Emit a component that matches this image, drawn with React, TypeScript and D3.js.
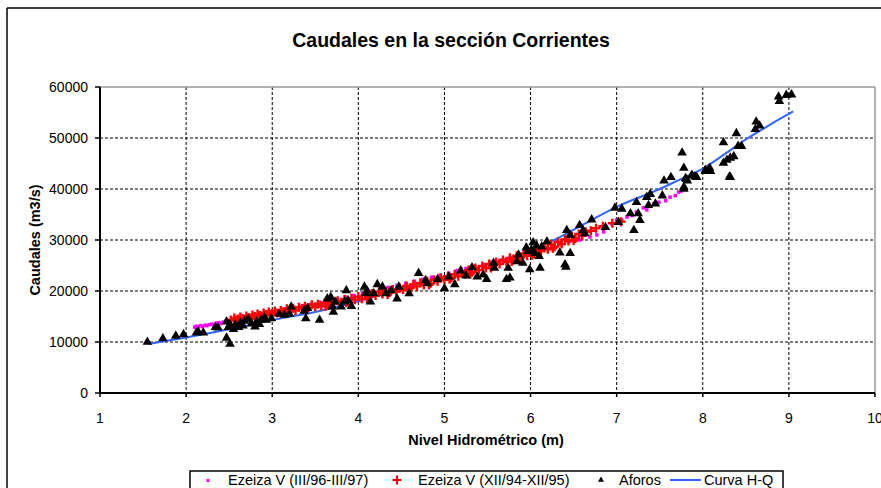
import React from "react";
import * as d3 from "d3";

const W = 881;
const H = 488;

const xTicks = [1, 2, 3, 4, 5, 6, 7, 8, 9, 10];
const yTicks = [0, 10000, 20000, 30000, 40000, 50000, 60000];

const title = "Caudales en la sección Corrientes";
const xTitle = "Nivel Hidrométrico (m)";
const yTitle = "Caudales (m3/s)";

const legendLabels = [
  "Ezeiza V (III/96-III/97)",
  "Ezeiza V (XII/94-XII/95)",
  "Aforos",
  "Curva H-Q",
];

// Curva H-Q
const curveHQ: [number, number][] = [
  [1.56, 9600], [2.0, 10900], [2.5, 12500], [3.0, 14300], [3.5, 15900],
  [4.0, 18000], [4.5, 20400], [5.0, 22800], [5.5, 25200], [6.0, 28000],
  [6.25, 29800], [6.5, 32000], [6.75, 34300], [7.0, 36500], [7.5, 40000],
  [7.75, 42000], [8.0, 44000], [8.25, 46800], [8.5, 49700], [8.75, 52300], [9.05, 55200],
];

// Ezeiza V (III/96-III/97)
const ezeiza96: [number, number][] = [
  [2.10, 12900], [2.12, 13100], [2.14, 13000], [2.17, 13200], [2.19, 13000], [2.22, 13300],
  [2.24, 13200], [2.27, 13400], [2.30, 13500], [2.32, 13400], [2.35, 13700], [2.38, 13800],
  [2.40, 13600], [2.43, 13900], [2.46, 14100], [2.48, 13900], [2.50, 14200], [2.56, 14400],
  [2.62, 14600], [2.70, 14900], [2.78, 15200], [2.86, 15500], [2.95, 15800], [3.05, 16100],
  [3.15, 16500], [3.25, 16800], [3.35, 17100], [3.45, 17400], [3.55, 17800], [3.65, 18100],
  [3.75, 18400], [3.85, 18800], [3.95, 19100], [4.05, 19500], [4.15, 19900], [4.25, 20300],
  [4.35, 20700], [4.45, 21100], [4.55, 21500], [4.65, 21900], [4.75, 22300], [4.85, 22700],
  [4.95, 23100], [5.05, 23500], [5.15, 24000], [5.25, 24400], [5.35, 24800], [5.45, 25200],
  [5.55, 25600], [5.65, 26000], [5.75, 26400], [5.85, 26900], [5.95, 27300], [6.05, 27800],
  [6.15, 28300], [6.25, 28800], [6.35, 29300], [6.45, 29700], [6.57, 30000], [6.69, 30600],
  [6.77, 31000], [6.85, 31600], [6.94, 33200], [7.00, 33900], [7.06, 33900], [7.12, 34500],
  [7.18, 34800], [7.23, 35500], [7.31, 36300], [7.35, 35900], [7.43, 37100], [7.49, 37400],
  [7.57, 37700], [7.62, 38400], [7.68, 38700], [7.72, 39400], [7.75, 39600],
];

// Ezeiza V (XII/94-XII/95)
const ezeiza94: [number, number][] = [
  [2.52, 14300], [2.56, 14700], [2.60, 14500], [2.63, 14900], [2.66, 14600], [2.70, 15100],
  [2.73, 14800], [2.77, 15300], [2.80, 15000], [2.83, 15500], [2.86, 15200], [2.90, 15700],
  [2.93, 15400], [2.96, 15900], [3.00, 15600], [3.03, 16100], [3.06, 15700], [3.10, 16200],
  [3.13, 15900], [3.17, 16500], [3.20, 16100], [3.24, 16600], [3.27, 16200], [3.31, 16800],
  [3.35, 16500], [3.38, 17000], [3.42, 16700], [3.46, 17300], [3.50, 16900], [3.53, 17400],
  [3.57, 17100], [3.61, 17700], [3.65, 17300], [3.68, 17900], [3.72, 17600], [3.76, 18100],
  [3.80, 17800], [3.84, 18400], [3.88, 18000], [3.92, 18600], [3.96, 18300], [4.00, 18900],
  [4.04, 18500], [4.08, 19200], [4.12, 18800], [4.16, 19500], [4.20, 19100], [4.24, 19800],
  [4.28, 19400], [4.32, 20000], [4.36, 19700], [4.40, 20300], [4.44, 19900], [4.48, 20600],
  [4.52, 20300], [4.56, 21000], [4.60, 20600], [4.64, 21300], [4.68, 20900], [4.72, 21600],
  [4.76, 21200], [4.80, 21900], [4.84, 21500], [4.88, 22200], [4.92, 21900], [4.96, 22600],
  [5.00, 22200], [5.04, 22900], [5.08, 22600], [5.12, 23300], [5.16, 22900], [5.20, 23700],
  [5.24, 23300], [5.28, 24100], [5.32, 23700], [5.36, 24500], [5.40, 24100], [5.44, 24900],
  [5.48, 24500], [5.52, 25300], [5.56, 24900], [5.60, 25700], [5.64, 25300], [5.68, 26100],
  [5.72, 25700], [5.76, 26500], [5.80, 26100], [5.84, 26900], [5.88, 26500], [5.92, 27300],
  [5.96, 26900], [6.00, 27700], [6.04, 27300], [6.08, 28100], [6.12, 27800], [6.16, 28600],
  [6.20, 28200], [6.24, 29100], [6.28, 28700], [6.32, 29600], [6.36, 29200], [6.40, 30100],
  [6.44, 29800], [6.48, 30700], [6.52, 30300], [6.56, 31200], [6.60, 30800], [6.64, 31600],
  [6.70, 31800], [6.76, 32300], [6.84, 32700], [6.95, 33300], [7.05, 33600],
  [2.58, 14200], [2.75, 14600], [2.98, 15300], [3.18, 15900], [3.40, 16300], [3.62, 17000],
  [3.86, 17700], [4.10, 18500], [4.34, 19300], [4.58, 20200], [4.82, 21200], [5.06, 22300],
  [5.30, 23300], [5.54, 24500], [5.78, 25800], [6.02, 27000], [6.26, 28400], [6.50, 29900],
];

// Aforos
const aforos: [number, number][] = [
  [1.55, 10000], [1.73, 10700], [1.88, 11200], [1.97, 11500], [2.12, 11800], [2.14, 12000],
  [2.20, 11800], [2.34, 12900], [2.37, 12800], [2.47, 14000], [2.49, 12900], [2.51, 13400],
  [2.47, 10800], [2.51, 9600], [2.57, 13400], [2.61, 12900], [2.63, 13700], [2.72, 14500],
  [2.80, 13000], [2.82, 14000], [2.87, 14300], [2.91, 14800], [2.93, 14300], [2.99, 14600],
  [2.55, 12500], [2.66, 13200], [2.68, 14100], [2.76, 13600], [2.85, 13500],
  [3.08, 15500], [3.14, 15300], [3.20, 15500], [3.22, 16900], [3.37, 16100], [3.39, 14600],
  [3.41, 16600], [3.55, 14300], [3.64, 18500], [3.68, 18800], [3.70, 16900], [3.71, 15900],
  [3.73, 17900], [3.80, 16900], [3.84, 17900], [3.86, 20100], [3.88, 18200], [3.92, 17000],
  [4.07, 20800], [4.09, 19500], [4.10, 20100], [4.14, 17900], [4.18, 19500], [4.22, 21300],
  [4.28, 20800], [4.32, 19500], [4.38, 20100], [4.45, 18500], [4.47, 20800], [4.59, 19500],
  [4.70, 23500], [4.78, 22100], [4.80, 21500], [5.00, 20500], [5.12, 21300], [5.19, 24000],
  [4.92, 22300], [5.05, 22800], [5.25, 23000], [5.32, 24600], [5.38, 22800],
  [5.45, 23200], [5.49, 22300], [5.57, 25500], [5.58, 24500], [5.72, 22300], [5.76, 22600],
  [5.74, 24500], [5.84, 25800], [5.86, 27100], [5.91, 25500], [5.99, 24200], [6.03, 29500],
  [6.01, 28100], [6.05, 27400], [6.11, 24500], [6.13, 28700], [6.19, 29700], [6.34, 27500],
  [6.40, 25200], [6.41, 24700], [6.42, 31900], [6.46, 31000], [6.46, 27400], [6.57, 32900],
  [6.61, 31900], [6.63, 31300], [6.71, 34000], [6.87, 32500], [6.98, 36300], [7.02, 33500],
  [5.95, 28500], [6.07, 28900], [5.97, 27800], [6.10, 26800],
  [7.06, 36100], [7.16, 35200], [7.20, 31900], [7.25, 35200], [7.27, 33900], [7.23, 37400],
  [7.35, 38400], [7.37, 36800], [7.39, 39000], [7.45, 37100], [7.53, 38700], [7.55, 41600],
  [7.63, 42300], [7.78, 40000], [7.82, 41600], [7.88, 42600], [7.93, 42300], [8.03, 43500],
  [8.09, 43500], [8.32, 42300],
  [7.78, 40400], [7.78, 44100], [7.76, 47100], [7.80, 42100], [7.81, 41900], [7.87, 42700],
  [7.91, 42400], [8.03, 43700], [8.08, 44100], [8.24, 49100], [8.24, 45100], [8.28, 45700],
  [8.32, 46100], [8.36, 46400], [8.31, 42400], [8.41, 48400], [8.39, 50900], [8.45, 48400],
  [8.61, 51700], [8.62, 53200], [8.66, 52400], [8.88, 58100], [8.89, 57200], [8.97, 58400],
  [9.03, 58500],
];

const FONT = "'Liberation Sans', Arial, Helvetica, sans-serif";

export default function App() {
  const left = 100, right = 875, top = 87, bottom = 393;
  const x = d3.scaleLinear().domain([1, 10]).range([left, right]);
  const y = d3.scaleLinear().domain([0, 60000]).range([bottom, top]);
  const line = d3.line<[number, number]>().x(d => x(d[0])).y(d => y(d[1])).curve(d3.curveMonotoneX);
  const tri = d3.symbol().type(d3.symbolTriangle).size(40)() as string;

  return (
    <svg width={W} height={H} style={{ position: "absolute", left: 0, top: 0, background: "#fff" }} fontFamily={FONT}>
      <rect x={0} y={0} width={W} height={H} fill="#fff" />
      {/* outer chart frame */}
      <line x1={7} y1={8} x2={W} y2={8} stroke="#000" strokeWidth={1.5} />
      <line x1={7} y1={8} x2={7} y2={H} stroke="#000" strokeWidth={1.5} />

      <text x={451} y={47} textAnchor="middle" fontSize={19.5} fontWeight="bold">{title}</text>

      {/* gridlines */}
      {yTicks.filter(t => t > 0 && t < 60000).map(t => (
        <line key={"gy" + t} x1={left} x2={right} y1={y(t)} y2={y(t)} stroke="#000" strokeWidth={1} strokeDasharray="3,2" />
      ))}
      {xTicks.filter(t => t > 1 && t < 10).map(t => (
        <line key={"gx" + t} x1={x(t)} x2={x(t)} y1={top} y2={bottom} stroke="#000" strokeWidth={1} strokeDasharray="3,2" />
      ))}
      <line x1={left} x2={right} y1={top} y2={top} stroke="#999" strokeWidth={1.5} />
      <line x1={right} x2={right} y1={top} y2={bottom} stroke="#999" strokeWidth={1.5} />

      {/* series */}
      <path d={line(curveHQ) || ""} fill="none" stroke="#3366ff" strokeWidth={2} />
      {ezeiza96.map((d, i) => (
        <rect key={"p" + i} x={x(d[0]) - 1.75} y={y(d[1]) - 1.75} width={3.5} height={3.5} fill="#ff00ff" />
      ))}
      {ezeiza94.map((d, i) => (
        <path key={"r" + i} d={`M${x(d[0]) - 4.5},${y(d[1])}h9M${x(d[0])},${y(d[1]) - 4.5}v9`} stroke="#ff0000" strokeWidth={2.4} />
      ))}
      {aforos.map((d, i) => (
        <path key={"a" + i} d={tri} transform={`translate(${x(d[0])},${y(d[1])})`} fill="#000" />
      ))}

      {/* axes */}
      <line x1={left} x2={left} y1={top} y2={bottom} stroke="#000" strokeWidth={2} />
      <line x1={left} x2={right} y1={bottom} y2={bottom} stroke="#000" strokeWidth={2} />
      {yTicks.map(t => (
        <g key={"yt" + t}>
          <line x1={left - 5} x2={left} y1={y(t)} y2={y(t)} stroke="#000" strokeWidth={1.5} />
          <text x={88} y={y(t)} dy="0.35em" textAnchor="end" fontSize={14}>{t}</text>
        </g>
      ))}
      {xTicks.map(t => (
        <g key={"xt" + t}>
          <line x1={x(t)} x2={x(t)} y1={bottom} y2={bottom + 4} stroke="#000" strokeWidth={1.5} />
          <text x={x(t)} y={423} textAnchor="middle" fontSize={14}>{t}</text>
        </g>
      ))}
      <text x={486} y={445} textAnchor="middle" fontSize={14.5} fontWeight="bold">{xTitle}</text>
      <text transform="translate(40,240) rotate(-90)" textAnchor="middle" fontSize={14.5} fontWeight="bold">{yTitle}</text>

      {/* legend */}
      <rect x={190} y={471} width={593} height={30} fill="#fff" stroke="#000" strokeWidth={1.5} />
      <rect x={206.5} y={479} width={3} height={3} fill="#ff00ff" />
      <text x={228} y={484.5} fontSize={14.5}>{legendLabels[0]}</text>
      <line x1={383} x2={413} y1={480} y2={480} stroke="#ccffff" strokeWidth={2} />
      <path d="M392.5,480h9M397,475.5v9" stroke="#ff0000" strokeWidth={2.2} />
      <text x={418} y={484.5} fontSize={14.5}>{legendLabels[1]}</text>
      <path d={d3.symbol().type(d3.symbolTriangle).size(16)() as string} transform="translate(601,480)" fill="#000" />
      <text x={619} y={484.5} fontSize={14.5}>{legendLabels[2]}</text>
      <line x1={670} x2={701} y1={480} y2={480} stroke="#3366ff" strokeWidth={2} />
      <text x={704} y={484.5} fontSize={14.5}>{legendLabels[3]}</text>
    </svg>
  );
}
